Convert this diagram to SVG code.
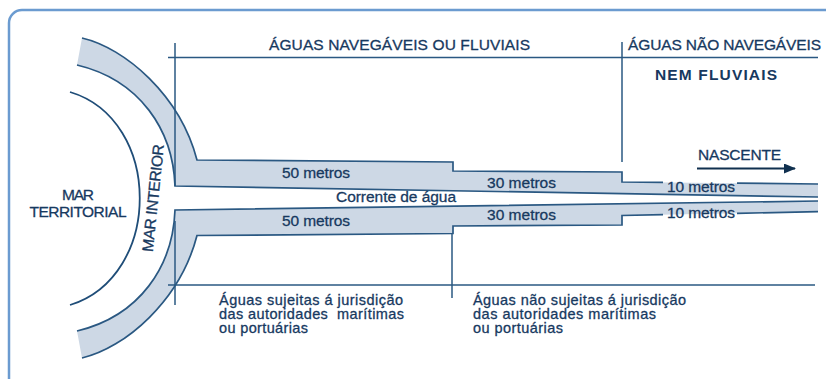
<svg xmlns="http://www.w3.org/2000/svg" width="826" height="379" viewBox="0 0 826 379">
<defs>
<style>
.t{font-family:"Liberation Sans",Arial,sans-serif;font-size:15.5px;fill:#17395f;stroke:#17395f;stroke-width:0.3}
.s{font-size:14.5px}
.b{font-weight:bold;stroke-width:0}
.band{fill:#cdd8e5;stroke:none}
.edge{fill:none;stroke:#2a5882;stroke-width:1.7}
.ln{fill:none;stroke:#2a5882;stroke-width:1.5}
.thin{fill:none;stroke:#1f4d78;stroke-width:1.8}
</style>
<marker id="ah" viewBox="0 0 12 10" refX="11" refY="5" markerWidth="12" markerHeight="10" markerUnits="userSpaceOnUse" orient="auto">
<path d="M0,0 L12,5 L0,10 Z" fill="#10304f"/>
</marker>
</defs>
<rect x="9" y="10" width="840" height="400" rx="13" fill="#ffffff" stroke="#6b9bd0" stroke-width="2.5"/>

<g id="mar-territorial">
<path class="thin" d="M70,92 C163,120 163,276 70,305"/>
<text class="t" x="78" y="200" text-anchor="middle" textLength="32">MAR</text>
<text class="t" x="78" y="217" text-anchor="middle" textLength="97">TERRITORIAL</text>
</g>

<g id="margem-superior">
<path class="band" d="M82,38 C125,48 180,95 197,160 L453,162 L453,171 L622,172 L622,182 L818,184 L818,197 L175,186 C173,130 140,80 77,65 Z"/>
<path class="edge" d="M82,38 C125,48 180,95 197,160 L453,162 L453,171 L622,172 L622,182 L663,182.4"/>
<path class="edge" d="M737,183.2 L818,184"/>
<path class="edge" d="M77,65 C140,80 173,130 175,186 L818,197"/>
</g>

<g id="margem-inferior">
<path class="band" d="M82,358 C125,348 180,301 197,235.5 L453,233.5 L453,226 L622,225 L622,215.5 L818,211.7 L818,201 L175,210 C173,266 140,316 77,331 Z"/>
<path class="edge" d="M82,358 C125,348 180,301 197,235.5 L453,233.5 L453,226 L622,225 L622,215.5 L663,214.7"/>
<path class="edge" d="M737,213.3 L818,211.7"/>
<path class="edge" d="M77,331 C140,316 173,266 175,210 L818,201"/>
</g>

<g id="mar-interior">
<text class="t" transform="translate(153,198) rotate(-84)" x="0" y="5.4" text-anchor="middle" textLength="108">MAR INTERIOR</text>
</g>

<g id="connectors">
<path class="ln" d="M168,57.5 L818,57.5"/>
<path class="ln" d="M168,285 L815,285"/>
<path class="ln" d="M175,43 L175,186"/>
<path class="ln" d="M175,221 L175,305"/>
<path class="ln" d="M622,42 L622,162"/>
<path class="ln" d="M452,234 L452,298"/>
<path d="M697,168.5 L795,168.5" stroke="#10304f" stroke-width="2.2" fill="none" marker-end="url(#ah)"/>
</g>

<g id="aguas-navegaveis">
<text class="t" x="269" y="50" textLength="261">ÁGUAS NAVEGÁVEIS OU FLUVIAIS</text>
</g>
<g id="aguas-nao-navegaveis">
<text class="t" x="628" y="50" textLength="193">ÁGUAS NÃO NAVEGÁVEIS</text>
<text class="t b" x="655" y="80" font-size="14.5" textLength="122">NEM FLUVIAIS</text>
</g>
<g id="nascente">
<text class="t" x="698" y="160" textLength="83">NASCENTE</text>
</g>

<g id="larguras">
<text class="t" x="282" y="178" textLength="68">50 metros</text>
<text class="t" x="282" y="226" textLength="68">50 metros</text>
<text class="t" x="487" y="188" textLength="69">30 metros</text>
<text class="t" x="487" y="220" textLength="69">30 metros</text>
<text class="t" x="667" y="191.5" textLength="68">10 metros</text>
<text class="t" x="667" y="218" textLength="68">10 metros</text>
</g>
<g id="corrente">
<text class="t" x="336" y="202" textLength="120">Corrente de água</text>
</g>

<g id="jurisdicao">
<text class="t s" x="219" y="305" textLength="184">Águas sujeitas á jurisdição</text>
<text class="t s" x="219" y="319" xml:space="preserve" textLength="185">das autoridades  marítimas</text>
<text class="t s" x="219" y="333" textLength="89">ou portuárias</text>
</g>
<g id="sem-jurisdicao">
<text class="t s" x="473" y="305" textLength="213">Águas não sujeitas á jurisdição</text>
<text class="t s" x="473" y="319" textLength="183">das autoridades marítimas</text>
<text class="t s" x="473" y="333" textLength="90">ou portuárias</text>
</g>
</svg>
